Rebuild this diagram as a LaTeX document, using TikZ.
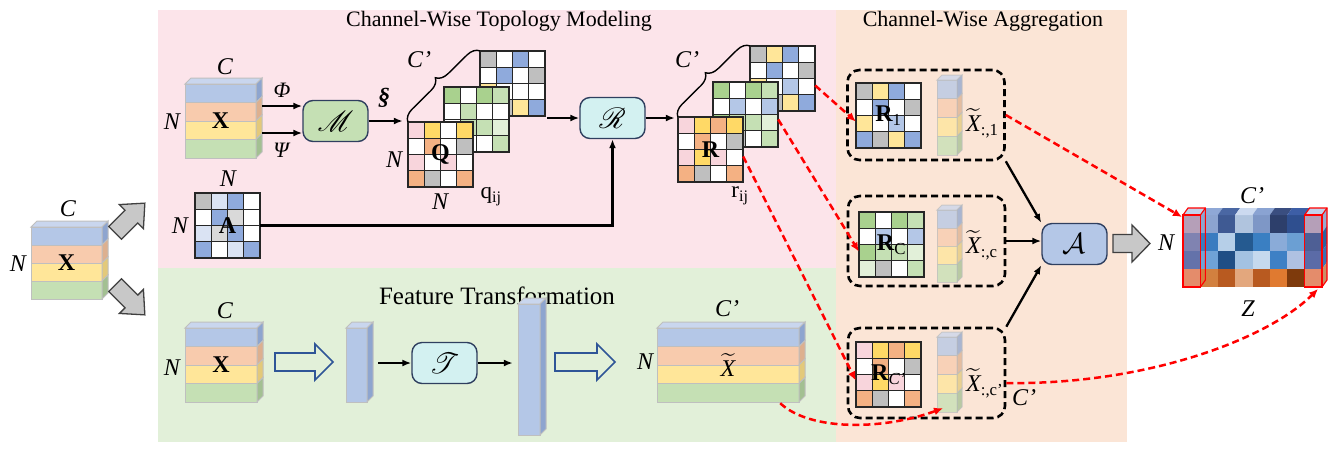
\documentclass[tikz,border=0pt]{standalone}
\usepackage{fontspec}
\setmainfont{Liberation Serif}
\usepackage{amsmath}
\usepackage{mathrsfs}
\usetikzlibrary{arrows.meta,calc,decorations.pathreplacing}

% panel backgrounds
\definecolor{bgpink}{HTML}{FCE4EA}
\definecolor{bggreen}{HTML}{E2F0D9}
\definecolor{bgorange}{HTML}{FBE5D6}
% slab colours (front / side / top)
\definecolor{lyblue}{HTML}{B4C7E7}
\definecolor{lyorange}{HTML}{F8CBAD}
\definecolor{lyyellow}{HTML}{FFE699}
\definecolor{lygreen}{HTML}{C5E0B4}
\definecolor{sdblue}{HTML}{8EA5CF}
\definecolor{sdorange}{HTML}{DDB08F}
\definecolor{sdyellow}{HTML}{E3C97A}
\definecolor{sdgreen}{HTML}{A3C092}
\definecolor{tpblue}{HTML}{C9D6EE}
\definecolor{edgegray}{HTML}{BFBFBF}
% matrix cell colours
\definecolor{cW}{HTML}{FFFFFF}
\definecolor{cP}{HTML}{F8D5DC}
\definecolor{cY}{HTML}{FFD966}
\definecolor{cLY}{HTML}{FFE699}
\definecolor{cO}{HTML}{F4B183}
\definecolor{cG}{HTML}{BFBFBF}
\definecolor{cLg}{HTML}{D9D9D9}
\definecolor{cGr}{HTML}{A9D18E}
\definecolor{cLG}{HTML}{C5E0B4}
\definecolor{cVG}{HTML}{E2F0D9}
\definecolor{cB}{HTML}{8FAADC}
\definecolor{cLB}{HTML}{B4C7E7}
\definecolor{cVB}{HTML}{DAE3F3}
% operator boxes and arrows
\definecolor{boxframe}{HTML}{2F3F5F}
\definecolor{mfill}{HTML}{C5E0B4}
\definecolor{rfill}{HTML}{D3F1F1}
\definecolor{afill}{HTML}{B4C7E7}
\definecolor{arrgray}{HTML}{C8C8C8}
\definecolor{hollowblue}{HTML}{2F5597}

\tikzset{
  slabedge/.style={draw=edgegray, line width=1pt},
  cellframe/.style={draw=black!85, line width=1.3pt},
  matnode/.style={inner sep=0, minimum width=65pt, minimum height=65pt,
    font=\fontsize{24}{26}\selectfont\bfseries},
  lab/.style={inner sep=0, font=\fontsize{24}{26}\selectfont\itshape},
  smalllab/.style={inner sep=0, font=\fontsize{23}{25}\selectfont},
  paneltitle/.style={inner sep=0, font=\fontsize{22}{26}\selectfont},
  opbox/.style={draw=boxframe, line width=1.4pt, rounded corners=10pt,
    minimum width=65pt, minimum height=41pt, inner sep=0,
    font=\fontsize{22}{24}\selectfont},
  aggbox/.style={draw=black, line width=2.6pt, dash pattern=on 7pt off 4pt,
    rounded corners=12pt, minimum width=157pt, minimum height=90pt, inner sep=0},
  arr/.style={line width=2.3pt, -{Latex[length=9pt,width=7pt]}},
  reddash/.style={draw=red, line width=2.5pt, dash pattern=on 7pt off 4pt,
    -{Latex[length=9pt,width=8pt]}},
  redbox/.style={draw=red, line width=1.1pt},
  cbrace/.style={decorate, decoration={brace, amplitude=12pt}, line width=1.4pt},
  grayarrow/.style={fill=arrgray, draw=black!75, line width=1.3pt},
  hollowarrow/.style={fill=none, draw=hollowblue, line width=1.7pt},
}

% 4x4 matrix: name, top-left x, top-left y, colours (row by row), label
\newcommand\cellmat[5]{%
  \foreach \cc [count=\k from 0] in {#4}{%
    \pgfmathtruncatemacro\mrow{floor(\k/4)}%
    \pgfmathtruncatemacro\mcol{mod(\k,4)}%
    \filldraw[cellframe, fill=\cc] ({#2+\mcol*16.25},{#3+\mrow*16.25}) rectangle ++(16.25,16.25);
  }%
  \node[matnode] (#1) at ({#2+32.5},{#3+32.5}) {#5};
}

% four-layer feature block: name, x, y, width, layer height, depth, label
\newcommand\layered[7]{%
  \filldraw[slabedge, fill=tpblue] (#2,#3) -- ++(#6,-#6) -- ++(#4,0) -- ++(-#6,#6) -- cycle;
  \foreach \lc/\sc [count=\k from 0] in {lyblue/sdblue,lyorange/sdorange,lyyellow/sdyellow,lygreen/sdgreen}{%
    \filldraw[slabedge, fill=\lc] (#2,{#3+\k*#5}) rectangle ++(#4,#5);
    \filldraw[slabedge, fill=\sc] ({#2+#4},{#3+\k*#5}) -- ++(#6,-#6) -- ++(0,#5) -- ++(-#6,#6) -- cycle;
  }%
  \node[inner sep=0, minimum width=#4, minimum height={4*#5},
    font=\fontsize{24}{26}\selectfont] (#1) at ({#2+#4/2},{#3+2*#5}) {#7};
}

% single-colour column: name, x, y, width, height, depth
\newcommand\solidcol[6]{%
  \filldraw[slabedge, fill=tpblue] (#2,#3) -- ++(#6,-#6) -- ++(#4,0) -- ++(-#6,#6) -- cycle;
  \filldraw[slabedge, fill=lyblue] (#2,#3) rectangle ++(#4,#5);
  \filldraw[slabedge, fill=sdblue] ({#2+#4},#3) -- ++(#6,-#6) -- ++(0,#5) -- ++(-#6,#6) -- cycle;
  \node[inner sep=0, minimum width=#4, minimum height=#5] (#1) at ({#2+#4/2},{#3+#5/2}) {};
}

% block arrow: style, centre x, centre y, angle, length, shaft width, head width, head length
\newcommand\blockarrow[8]{%
  \begin{scope}[shift={(#2,#3)}, rotate=#4]
    \filldraw[#1] ({-#5/2},{-#6/2}) -- ({#5/2-#8},{-#6/2}) -- ({#5/2-#8},{-#7/2})
      -- ({#5/2},0) -- ({#5/2-#8},{#7/2}) -- ({#5/2-#8},{#6/2}) -- ({-#5/2},{#6/2}) -- cycle;
  \end{scope}}

\newcommand\xtil{$\widetilde{\textit{X}}$}
% enlarged operator glyph
\newcommand\opsym[1]{\scalebox{1.4}{$#1$}}

\begin{document}
\begin{tikzpicture}[x=1pt,y=-1pt]
\useasboundingbox (0,0) rectangle (1335,451);

% ---------- panels ----------
\fill[bgpink] (158,10) rectangle (836,268);
\fill[bggreen] (158,268) rectangle (836,442);
\fill[bgorange] (836,10) rectangle (1127,442);
\node[paneltitle] (t1) at (499,21) {Channel-Wise Topology Modeling};
\node[paneltitle] (t2) at (983,21) {Channel-Wise Aggregation};
\node[paneltitle, font=\fontsize{25}{28}\selectfont] (t3) at (497,296) {Feature Transformation};

% ---------- input ----------
\layered{X0}{31}{227}{71}{18}{6}{\textbf{X}}
\node[lab] (X0c) at (68,209) {C};
\node[lab] (X0n) at (18,264) {N};
\blockarrow{grayarrow}{130}{218}{45}{42}{18}{34}{19}
\blockarrow{grayarrow}{130}{300}{-45}{42}{18}{34}{19}

% ---------- channel-wise topology modeling ----------
\layered{X1}{185}{84}{71}{18.5}{6}{\textbf{X}}
\node[lab] (X1c) at (225,67) {C};
\node[lab] (X1n) at (172,122) {N};
\node[opbox, fill=mfill] (Mbox) at (335.5,121) {\opsym{\mathscr{M}}};
\draw[arr, shorten <=6pt] ([yshift=15pt]X1.east) -- ([yshift=15pt]Mbox.west);
\draw[arr, shorten <=6pt] ([yshift=-12pt]X1.east) -- ([yshift=-12pt]Mbox.west);
\node[lab, font=\fontsize{22}{24}\selectfont\itshape] (phi) at (282,90) {Φ};
\node[lab, font=\fontsize{22}{24}\selectfont\itshape] (psi) at (281,150) {Ψ};

\cellmat{Qb}{480}{51}{cG,cW,cB,cW, cW,cB,cW,cG, cLY,cW,cW,cW, cG,cG,cLY,cB}{}
\cellmat{Qm}{444}{87}{cGr,cW,cGr,cLG, cW,cLG,cW,cW, cW,cLG,cLG,cVG, cW,cW,cW,cLG}{}
\cellmat{Qf}{408}{122}{cP,cY,cW,cY, cW,cO,cW,cG, cP,cW,cP,cW, cO,cG,cW,cO}{Q}
\draw[cbrace] (Qf.north west) -- (Qb.north west);
\draw[arr, shorten >=5pt] (Mbox.east) -- (Mbox.east -| Qf.west);
\node[lab, font=\fontsize{24}{26}\selectfont\itshape\bfseries] (sect) at (384,98) {§};
\node[lab] (Qc) at (419,60) {C’};
\node[lab] (Qn1) at (394,160) {N};
\node[lab] (Qn2) at (440,202) {N};
\node[smalllab] (qij) at (491,197) {q\textsubscript{ij}};

\node[opbox, fill=rfill] (Rbox) at (612.5,118) {\opsym{\mathscr{R}}};
\draw[arr, shorten <=2pt] (Qb.east |- Rbox.west) -- (Rbox.west);

\cellmat{Amat}{195}{193}{cG,cVB,cB,cW, cW,cB,cLg,cW, cVB,cLg,cB,cW, cB,cW,cVB,cB}{A}
\node[lab] (An1) at (228,179) {N};
\node[lab] (An2) at (180,226) {N};
\draw[arr] (Amat.east) -| (Rbox.south);

\cellmat{Rb}{750}{46}{cG,cLY,cB,cW, cW,cB,cW,cG, cLY,cW,cLB,cW, cB,cG,cLY,cB}{}
\cellmat{Rm}{713}{82}{cGr,cW,cGr,cLG, cW,cLB,cW,cLB, cGr,cLG,cLG,cVG, cVG,cG,cW,cLG}{}
\cellmat{Rf}{678}{117}{cP,cY,cO,cY, cW,cO,cW,cG, cP,cY,cP,cW, cO,cG,cW,cO}{R}
\draw[cbrace] (Rf.north west) -- (Rb.north west);
\draw[arr, shorten >=3pt] (Rbox.east) -- (Rbox.east -| Rf.west);
\node[lab] (Rc) at (687,60) {C’};
\node[smalllab] (rij) at (740,196) {r\textsubscript{ij}};

% ---------- feature transformation ----------
\layered{X2}{185}{328}{72}{18.5}{6}{\textbf{X}}
\node[lab] (X2c) at (225,311) {C};
\node[lab] (X2n) at (172,368) {N};
\blockarrow{hollowarrow}{304}{362}{0}{58}{18}{36}{18}
\solidcol{colA}{346}{328}{21}{74}{6}
\node[opbox, fill=rfill] (Tbox) at (444.5,363) {\opsym{\mathscr{T}}};
\draw[arr, shorten <=11pt] (colA.east |- Tbox.west) -- (Tbox.west);
\solidcol{colB}{518}{304}{22}{131}{6}
\draw[arr, shorten >=5pt] (Tbox.east) -- (Tbox.east -| colB.west);
\blockarrow{hollowarrow}{585}{362}{0}{60}{18}{36}{18}
\layered{Xt}{657}{328}{142}{18.5}{6}{\xtil}
\node[lab] (Xtc) at (727,309) {C’};
\node[lab] (Xtn) at (645,362) {N};

% ---------- channel-wise aggregation ----------
\node[aggbox] (g1) at (926,115) {};
\node[aggbox] (g2) at (926.5,241) {};
\node[aggbox] (g3) at (926.5,373) {};
\cellmat{R1}{856}{83}{cG,cLY,cB,cW, cW,cB,cW,cG, cLY,cW,cLB,cW, cB,cG,cLY,cB}{R\textsubscript{\mdseries 1}}
\cellmat{RC}{859}{212}{cGr,cW,cGr,cLG, cW,cLB,cW,cLB, cGr,cLG,cLG,cVG, cVG,cG,cW,cLG}{R\textsubscript{\mdseries C}}
\cellmat{RCp}{856}{342}{cP,cY,cO,cY, cW,cO,cW,cG, cP,cY,cP,cW, cO,cG,cW,cO}{R\textsubscript{\mdseries\itshape C’}}
\begin{scope}[opacity=0.75]
  \layered{c1}{937}{80}{20}{18.75}{5}{}
  \layered{c2}{937}{210}{20}{18}{5}{}
  \layered{c3}{937}{337}{20}{18.75}{5}{}
\end{scope}
\node[lab, anchor=west] (x1) at (966,123) {$\widetilde{\textit{X}}_{\textup{:,1}}$};
\node[lab, anchor=west] (x2) at (966,245) {$\widetilde{\textit{X}}_{\textup{:,c}}$};
\node[lab, anchor=west] (x3) at (966,383) {$\widetilde{\textit{X}}_{\textup{:,c’}}$};
\node[lab] (x3c) at (1024,398) {C’};

\node[opbox, fill=afill] (Abox) at (1074.5,244) {\opsym{\mathcal{A}}};
\draw[arr] (g1.south east) -- (Abox.north west);
\draw[arr] (g2.east) -- (g2.east -| Abox.west);
\draw[arr] (g3.north east) -- (Abox.south west);
\blockarrow{grayarrow}{1131.5}{243.5}{0}{37}{18}{37}{18}

% ---------- output Z ----------
\foreach \h [count=\k from 0] in {A9BCD9,8CA4D0,3F5A93,B0C4DE,7E97C6,2D3F6B,2F4F8F,A9BCD9,
  6A9BD0,3A7CC0,B6CFE8,255A90,3A7FC2,8AABD8,6B9FD3,3070B0,
  4A86C8,6FA2D6,1F4E85,A3C2E2,C5D9EE,3E80C5,AFC1E2,3F7EC5,
  E0A57E,D2803F,B85A20,E3A77D,B85A20,E07A30,7E3A0C,E0A57E}{%
  \pgfmathtruncatemacro\mrow{floor(\k/8)}%
  \pgfmathtruncatemacro\mcol{mod(\k,8)}%
  \edef\tmpc{\noexpand\definecolor{zc}{HTML}{\h}}\tmpc
  \fill[zc] ({1183+\mcol*17.375},{215+\mrow*18}) rectangle ++(17.375,18);
}
\foreach \h [count=\k from 0] in {C3D2EA,8FA8D6,4A67A3,CCDAF0,8AA3D2,3A4E80,3D5EA6,C3D2EA}{%
  \edef\tmpc{\noexpand\definecolor{zc}{HTML}{\h}}\tmpc
  \fill[zc] ({1183+\k*17.375},215) -- ++(5,-7) -- ++(17.375,0) -- ++(-5,7) -- cycle;
}
\foreach \h [count=\k from 0] in {98ACD0,2A63A0,3A72B5,C98F68}{%
  \edef\tmpc{\noexpand\definecolor{zc}{HTML}{\h}}\tmpc
  \fill[zc] (1322,{215+\k*18}) -- ++(5,-7) -- ++(0,18) -- ++(-5,7) -- cycle;
}
\node[inner sep=0, minimum width=139pt, minimum height=72pt] (Z) at (1252.5,251) {};
\foreach \xx in {1183,1304.625}{%
  \fill[red, opacity=0.15] (\xx,215) rectangle ++(17.375,72);
  \draw[redbox] (\xx,215) rectangle ++(17.375,72);
  \draw[redbox] (\xx,215) -- ++(5,-7) -- ++(17.375,0) -- ++(0,72) -- ++(-5,7);
  \draw[redbox] ({\xx+17.375},215) -- ++(5,-7);
}
\coordinate (zl) at (1182,217);
\coordinate (zr) at (1318,289);
\node[lab] (Zn) at (1166,243) {N};
\node[lab] (Zc) at (1252,196) {C’};
\node[lab] (Zz) at (1248,309) {Z};

% ---------- red dashed links ----------
\draw[reddash] ([yshift=-7pt]Rb.east) -- ([yshift=-6pt]R1.west);
\draw[reddash] ([yshift=-5pt]Rm.east) -- ([yshift=-7pt]RC.west);
\draw[reddash] ([yshift=-7pt]Rf.east) -- ([yshift=-6pt]RCp.west);
\draw[reddash] ([xshift=-19pt,yshift=-1pt]Xt.south east) .. controls +(30,28) and +(-60,22) .. ([xshift=-4pt,yshift=4pt]c3.south);
\draw[reddash] (g1.east) -- (zl);
\draw[reddash] ([yshift=-10pt]g3.east) .. controls +(140,2) and +(-50,50) .. (zr);
\end{tikzpicture}
\end{document}
